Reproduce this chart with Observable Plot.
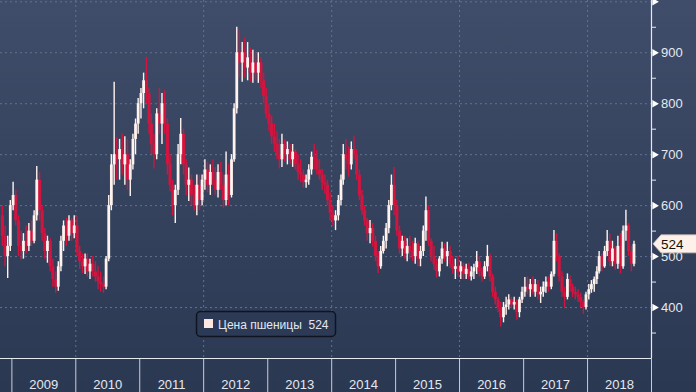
<!DOCTYPE html>
<html><head><meta charset="utf-8">
<script src="https://cdn.jsdelivr.net/npm/d3@7"></script>
<script src="https://cdn.jsdelivr.net/npm/@observablehq/plot@0.6"></script>
<style>
html,body{margin:0;padding:0;background:#2c3954;}
#chart{width:696px;height:392px;}
</style></head><body><div id="chart"></div>
<script>
const seriesName = "Цена пшеницы";
const lastPrice = 524;
const majorTicks = [400, 500, 600, 700, 800, 900];
const minorTicks = [350, 450, 550, 650, 750, 850, 950];
const gridValues = [400, 500, 600, 700, 800, 900, 1000];
const gridYears = [2010, 2012, 2014, 2016, 2018];
const yearLabels = [2009, 2010, 2011, 2012, 2013, 2014, 2015, 2016, 2017, 2018];
const yearBounds = [2009, 2010, 2011, 2012, 2013, 2014, 2015, 2016, 2017, 2018, 2019];

// half-month candles: [open, high, low, close]
const candles2008 = [[580,600,520,540],[540,560,480,500],[500,540,457,520],[520,610,510,600]];
const candles2009 = [[600,646,590,620],[620,630,560,570],[570,580,500,520],[520,550,493,510],[510,545,495,530],[530,560,505,520],[520,565,510,550],[550,570,520,530],[530,590,525,580],[580,677,570,650],[650,665,570,590],[590,600,530,545],[545,555,495,510],[510,540,487,530],[530,535,470,480],[480,495,440,455],[455,470,428,440],[440,490,432,480],[480,540,470,530],[530,570,510,560],[560,575,520,540],[540,580,530,570],[570,575,530,545],[545,580,535,560]];
const candles2010 = [[560,578,500,510],[510,520,475,490],[490,505,467,480],[480,505,465,495],[495,505,460,470],[470,495,455,485],[485,500,460,470],[470,490,450,460],[460,480,435,450],[450,470,430,445],[445,460,428,440],[440,500,435,495],[495,620,490,600],[600,700,590,680],[680,842,640,700],[700,734,650,690],[690,730,650,710],[710,741,660,680],[680,735,640,700],[700,730,630,650],[650,690,618,680],[680,740,670,730],[730,770,700,760],[760,810,740,800]];
const candles2011 = [[800,830,770,820],[820,860,790,845],[845,891,800,820],[820,830,740,760],[760,780,700,720],[720,740,672,700],[700,790,690,780],[780,830,740,760],[760,820,720,800],[800,825,740,760],[760,770,660,680],[680,700,627,640],[640,650,580,600],[600,640,565,630],[630,720,620,700],[700,771,680,740],[740,750,660,680],[680,690,620,640],[640,674,608,650],[650,660,600,620],[620,640,590,600],[600,660,580,640],[640,660,590,610],[610,660,600,650]];
const candles2012 = [[650,690,630,670],[670,685,625,640],[640,680,620,665],[665,690,640,650],[650,675,620,630],[630,680,615,665],[665,685,630,640],[640,660,595,610],[610,705,600,660],[660,680,600,620],[620,700,615,690],[690,800,685,790],[790,950,780,900],[900,945,850,880],[880,920,842,900],[900,929,850,870],[870,920,845,890],[890,910,842,860],[860,905,840,880],[880,900,845,860],[860,900,840,880],[880,890,830,845],[845,860,800,815],[815,830,770,780]];
const candles2013 = [[780,800,745,760],[760,775,720,735],[735,760,705,720],[720,745,690,700],[700,730,672,690],[690,740,675,720],[720,730,685,700],[700,725,680,710],[710,720,680,690],[690,720,675,705],[705,710,670,680],[680,700,650,665],[665,690,645,660],[660,670,635,645],[645,660,634,650],[650,680,640,670],[670,705,660,695],[695,720,670,690],[690,708,660,670],[670,690,650,660],[660,671,630,645],[645,660,622,640],[640,650,600,610],[610,625,570,585]];
const candles2014 = [[585,600,560,570],[570,590,551,580],[580,620,570,610],[610,660,600,650],[650,720,640,700],[700,730,670,690],[690,715,656,680],[680,725,670,710],[710,736,690,700],[700,710,650,660],[660,670,610,620],[620,630,581,590],[590,600,560,570],[570,575,530,545],[545,571,525,555],[555,565,519,530],[530,540,490,500],[500,510,467,480],[480,520,475,510],[510,540,505,530],[530,565,515,555],[555,610,545,600],[600,660,590,640],[640,675,580,600]];
const candles2015 = [[600,610,540,550],[550,560,505,515],[515,540,500,530],[530,540,495,505],[505,535,490,520],[520,540,495,510],[510,530,490,500],[500,536,485,525],[525,530,480,495],[495,520,480,510],[510,560,500,550],[550,617,530,590],[590,600,520,530],[530,535,490,500],[500,520,473,485],[485,495,458,470],[470,500,460,495],[495,528,485,515],[515,525,490,500],[500,528,480,510],[510,520,477,485],[485,500,465,475],[475,495,455,480],[480,500,460,470]];
const candles2016 = [[470,490,455,480],[480,487,455,465],[465,485,455,475],[475,487,455,460],[460,480,452,470],[470,485,455,478],[478,510,465,490],[490,500,460,470],[470,477,450,460],[460,490,455,480],[480,522,470,500],[500,505,450,460],[460,465,420,430],[430,440,405,415],[415,420,390,400],[400,410,362,380],[380,410,370,400],[400,420,385,405],[405,425,395,415],[415,420,398,405],[405,420,395,410],[410,415,375,390],[390,420,380,415],[415,440,408,430]];
const candles2017 = [[430,459,420,440],[440,460,425,435],[435,455,420,445],[445,460,425,430],[430,455,420,445],[445,453,415,425],[425,440,408,430],[430,450,420,440],[440,460,428,450],[450,460,430,440],[440,470,435,465],[465,551,460,530],[530,545,490,500],[500,505,450,460],[460,470,420,430],[430,440,398,420],[420,466,415,455],[455,462,430,440],[440,446,420,430],[430,440,415,425],[425,435,410,420],[420,428,400,410],[410,415,387,400],[400,430,395,425]];
const candles2018 = [[425,445,415,435],[435,453,428,445],[445,460,430,455],[455,480,445,470],[470,510,466,500],[500,505,470,480],[480,520,477,510],[510,551,500,530],[530,545,480,490],[490,530,480,515],[515,520,473,485],[485,540,475,520],[520,545,466,480],[480,560,475,550],[550,591,530,560],[560,565,500,510],[510,520,470,485],[485,530,480,524]];

const series = [
  {year: 2008, firstMonth: 10, rows: candles2008},
  {year: 2009, firstMonth: 0, rows: candles2009},
  {year: 2010, firstMonth: 0, rows: candles2010},
  {year: 2011, firstMonth: 0, rows: candles2011},
  {year: 2012, firstMonth: 0, rows: candles2012},
  {year: 2013, firstMonth: 0, rows: candles2013},
  {year: 2014, firstMonth: 0, rows: candles2014},
  {year: 2015, firstMonth: 0, rows: candles2015},
  {year: 2016, firstMonth: 0, rows: candles2016},
  {year: 2017, firstMonth: 0, rows: candles2017},
  {year: 2018, firstMonth: 0, rows: candles2018}
];

const data = series.flatMap(s => s.rows.map((r, k) => ({
  date: new Date(Date.UTC(s.year, s.firstMonth + Math.floor(k / 2), k % 2 ? 23 : 8)),
  open: r[0], high: r[1], low: r[2], close: r[3]
})));
const up = data.filter(d => d.close >= d.open);
const down = data.filter(d => d.close < d.open);

const UP = "#fff3ee", DOWN = "#d3143f", AXIS = "#e4e9f0", GRID = "#62728f";
const utc = (y, m = 0, d = 1) => new Date(Date.UTC(y, m, d));
const FONT = "'Liberation Sans', Arial, sans-serif";

const plot = Plot.plot({
  width: 696, height: 392,
  marginLeft: 0, marginRight: 45, marginTop: 0, marginBottom: 34,
  style: `background: linear-gradient(to bottom, #404d6a 0%, #2b3852 100%); color: ${AXIS}; font-family: ${FONT}; font-size: 13px; overflow: visible;`,
  x: {type: "utc", domain: [utc(2008, 9, 28), utc(2019)], range: [0, 651]},
  y: {domain: [300, 1000], range: [358, 1.3]},
  marks: [
    Plot.ruleY(gridValues, {stroke: GRID, strokeDasharray: "2,3", strokeWidth: 1}),
    Plot.ruleX(gridYears.map(y => utc(y)), {stroke: GRID, strokeDasharray: "2,3", strokeWidth: 1}),
    Plot.ruleX(up, {x: "date", y1: "low", y2: "high", stroke: UP, strokeWidth: 1.4}),
    Plot.ruleX(down, {x: "date", y1: "low", y2: "high", stroke: DOWN, strokeWidth: 1.4}),
    Plot.ruleX(down, {x: "date", y1: "open", y2: "close", stroke: DOWN, strokeWidth: 3.1}),
    Plot.ruleX(up, {x: "date", y1: "open", y2: "close", stroke: UP, strokeWidth: 2.8}),
    Plot.ruleY([300], {stroke: AXIS, strokeWidth: 1.2}),
    Plot.ruleX([utc(2019)], {stroke: AXIS, strokeWidth: 1.2}),
    Plot.axisX({ticks: yearBounds.map(y => utc(y)), tickSize: 34, tickFormat: () => "", stroke: AXIS, strokeOpacity: 0.85}),
    Plot.axisX({ticks: yearLabels.map(y => utc(y, 6, 2)), tickSize: 0, tickPadding: 21, tickFormat: d3.utcFormat("%Y"), fill: AXIS, fontSize: 13}),
    Plot.axisY({anchor: "right", ticks: minorTicks, tickSize: 4, tickFormat: () => "", stroke: AXIS}),
    Plot.axisY({anchor: "right", ticks: majorTicks, tickSize: 0, tickPadding: 9.5, fill: AXIS, fontSize: 13}),
    Plot.dot([...majorTicks, 1000], {y: d => d, frameAnchor: "right", symbol: "triangle", rotate: 90, r: 2.8, dx: 3, fill: "#ffffff"})
  ]
});

document.getElementById("chart").appendChild(plot);

// overlay legend and last-price tag
const svg = d3.select(plot);
const g = svg.append("g").attr("text-anchor", "start").style("font-family", FONT);
g.append("rect").attr("x", 196.5).attr("y", 311.5).attr("width", 139).attr("height", 25).attr("rx", 4)
  .attr("fill", "#2d3a55").attr("stroke", "#0e1521").attr("stroke-width", 1.5);
g.append("rect").attr("x", 204).attr("y", 319).attr("width", 9).attr("height", 9).attr("fill", "#fde9e1");
g.append("text").attr("x", 218).attr("y", 328.5).attr("text-anchor", "start").style("white-space", "pre").style("font-size", "12px")
  .attr("fill", "#e3e8ef").text(`${seriesName}  ${lastPrice}`);

const yl = plot.scale("y").apply(lastPrice);
g.append("path").attr("d", `M653,${yl} L661,${yl - 9} L697,${yl - 9} L697,${yl + 9} L661,${yl + 9} Z`)
  .attr("fill", "#fdf1ea").attr("stroke", "#c9bcb5").attr("stroke-width", 0.8);
g.append("text").attr("x", 661).attr("y", yl + 5).attr("text-anchor", "start").style("font-size", "13.5px").attr("fill", "#111").text(lastPrice);
</script>
</body></html>
